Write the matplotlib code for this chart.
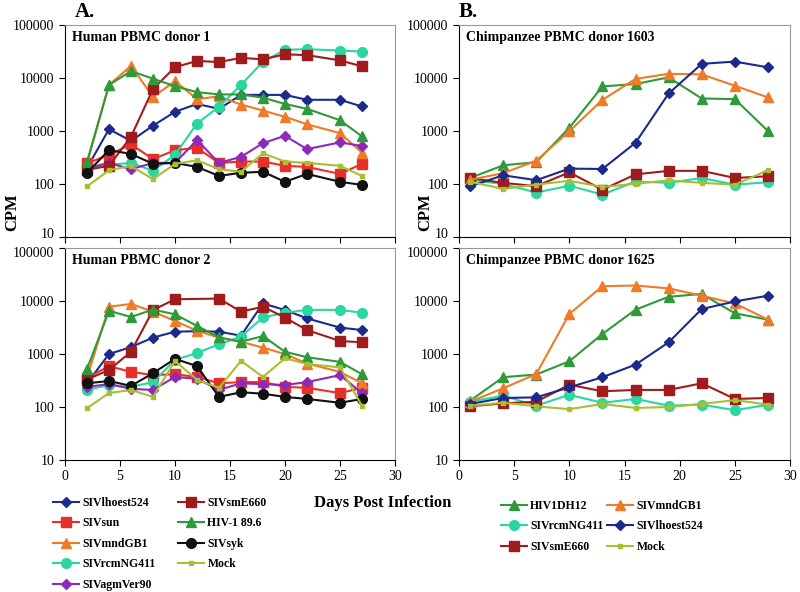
import matplotlib.pyplot as plt
from matplotlib.transforms import ScaledTranslation

plt.rcParams['font.family'] = ['Liberation Serif', 'DejaVu Serif']

# days post infection
days_a = [2, 4, 6, 8, 10, 12, 14, 16, 18, 20, 22, 25, 27]
days_b = [1, 4, 7, 10, 13, 16, 19, 22, 25, 28]

# A. Human PBMC donor 1 (CPM)
lhoest_h1 = [200, 1085, 650, 1260, 2300, 3240, 2620, 4800, 4800, 4800, 3880, 3880, 2900]
sun_h1 = [245, 355, 560, 295, 435, 480, 250, 265, 265, 220, 210, 155, 240]
mnd_h1 = [245, 7400, 17000, 4400, 8700, 4000, 4500, 3150, 2430, 1850, 1340, 910, 390]
rcm_h1 = [200, 230, 250, 178, 355, 1380, 2870, 7400, 20300, 34000, 35000, 33000, 31500]
agm_h1 = [200, 250, 190, 250, 250, 675, 250, 325, 590, 810, 455, 610, 520]
sme_h1 = [185, 220, 780, 6200, 16000, 21000, 20000, 24000, 22500, 28000, 27000, 21500, 16600]
hiv_h1 = [260, 7400, 13500, 9700, 7000, 5400, 4900, 4900, 4250, 3240, 2620, 1600, 790]
syk_h1 = [163, 435, 370, 240, 250, 210, 142, 163, 170, 110, 155, 110, 96]
mock_h1 = [90, 182, 218, 123, 240, 280, 190, 170, 380, 265, 250, 220, 142]

# A. Human PBMC donor 2 (CPM), None = no sample
lhoest_h2 = [280, 1000, 1350, 2040, 2630, 2700, 2630, 2220, 9000, 6760, 4700, 3150, 2830]
sun_h2 = [355, 590, 460, 400, 415, 370, 280, 295, 295, 240, 230, 183, 230]
mnd_h2 = [355, 7800, 8800, 6300, 4200, 2750, 2030, 1700, 1320, 1000, 660, 460, 280]
rcm_h2 = [210, 260, 240, 295, 770, 1050, 1520, 2130, 4900, 6000, 6800, 6800, 6000]
agm_h2 = [240, 270, 220, 210, 370, 340, 210, 280, 270, 260, 295, 400, 183]
sme_h2 = [330, 500, 1100, 6760, 10800, None, 11100, 6300, 7800, 4860, 2830, 1760, 1660]
hiv_h2 = [520, 6500, 5000, 6900, 5600, 3400, 2060, 1700, 2180, 1100, 870, 710, 415]
syk_h2 = [280, 310, 250, 435, 810, 590, 155, 190, 178, 155, 142, 120, 142]
mock_h2 = [95, 183, 210, 155, 740, 325, 230, 740, 370, 830, 650, 560, 105]

# B. Chimpanzee PBMC donor 1603 (CPM)
hiv_c1 = [130, 225, 258, 1150, 6940, 7700, 10300, 4100, 4000, 1000]
mnd_c1 = [120, 160, 275, 990, 3870, 9600, 12000, 11700, 7150, 4300]
lhoest_c1 = [90, 146, 118, 195, 192, 600, 5100, 18500, 20400, 15900]
sme_c1 = [130, 105, 91, 166, 78, 152, 177, 177, 130, 140]
rcm_c1 = [120, 100, 69, 93, 63, 112, 105, 130, 97, 108]
mock_c1 = [110, 81, 97, 115, 88, 101, 117, 105, 97, 182]

# B. Chimpanzee PBMC donor 1625 (CPM)
hiv_c2 = [131, 365, 410, 730, 2390, 6860, 12000, 13600, 5860, 4450]
mnd_c2 = [126, 225, 418, 5700, 19000, 19600, 17300, 12600, 9000, 4450]
lhoest_c2 = [114, 148, 152, 235, 365, 630, 1660, 7060, 9800, 12600]
sme_c2 = [103, 117, 126, 263, 198, 210, 210, 280, 142, 148]
rcm_c2 = [126, 163, 106, 170, 120, 142, 106, 111, 87, 110]
mock_c2 = [106, 120, 103, 91, 114, 96, 100, 114, 135, 111]

# line style per virus: (colour, marker, markersize)
styles = {
    'SIVlhoest524': ('#1c2a8c', 'D', 5),
    'SIVsun': ('#e8302a', 's', 6.5),
    'SIVmndGB1': ('#f07a28', '^', 7),
    'SIVrcmNG411': ('#2bd6a0', 'o', 7),
    'SIVagmVer90': ('#8e2ab8', 'D', 5.5),
    'SIVsmE660': ('#a01c1c', 's', 6.5),
    'HIV-1 89.6': ('#2f9a3a', '^', 7),
    'HIV1DH12': ('#2f9a3a', '^', 7),
    'SIVsyk': ('#111111', 'o', 7),
    'Mock': ('#a8c030', 's', 3.5),
}

W, H = 800, 592


def add_ax(fig, x0, y0, x1, y1):
    # pixel box -> figure fraction
    return fig.add_axes([x0 / W, 1 - y1 / H, (x1 - x0) / W, (y1 - y0) / H])


def draw(ax, days, series, title, top_panel):
    for name, vals in series:
        color, marker, ms = styles[name]
        xs = [d for d, v in zip(days, vals) if v is not None]
        ys = [v for v in vals if v is not None]
        ax.plot(xs, ys, color=color, marker=marker, markersize=ms, lw=1.5,
                label=name)
    ax.set_yscale('log')
    ax.set_ylim(10, 100000)
    ax.set_xlim(0, 30)
    ax.set_xticks(range(0, 31, 5))
    ax.set_yticks([10, 100, 1000, 10000, 100000])
    ax.set_yticklabels(['10', '100', '1000', '10000', '100000'])
    ax.minorticks_off()
    ax.tick_params(direction='out', length=4, labelsize=10)
    labels = ax.get_yticklabels()
    if top_panel:
        ax.tick_params(axis='x', labelbottom=False)
        # nudge the lowest label up so it clears the panel below
        lab, dy = labels[0], 3
    else:
        lab, dy = labels[-1], -3
    lab.set_transform(lab.get_transform()
                      + ScaledTranslation(0, dy / 72, ax.figure.dpi_scale_trans))
    for s in ('top', 'right'):
        ax.spines[s].set_color('#999999')
        ax.spines[s].set_linewidth(0.8)
    ax.text(0.02, 0.94, title, transform=ax.transAxes, fontsize=10,
            fontweight='bold', va='center')


fig = plt.figure(figsize=(8, 5.92), dpi=100)

ax1 = add_ax(fig, 65, 25, 395, 237)
draw(ax1, days_a, [('SIVlhoest524', lhoest_h1), ('SIVsun', sun_h1),
                   ('SIVmndGB1', mnd_h1), ('SIVrcmNG411', rcm_h1),
                   ('SIVagmVer90', agm_h1), ('SIVsmE660', sme_h1),
                   ('HIV-1 89.6', hiv_h1), ('SIVsyk', syk_h1), ('Mock', mock_h1)],
     'Human PBMC donor 1', True)

ax2 = add_ax(fig, 65, 248, 395, 460)
draw(ax2, days_a, [('SIVlhoest524', lhoest_h2), ('SIVsun', sun_h2),
                   ('SIVmndGB1', mnd_h2), ('SIVrcmNG411', rcm_h2),
                   ('SIVagmVer90', agm_h2), ('SIVsmE660', sme_h2),
                   ('HIV-1 89.6', hiv_h2), ('SIVsyk', syk_h2), ('Mock', mock_h2)],
     'Human PBMC donor 2', False)

ax3 = add_ax(fig, 459, 25, 790, 237)
draw(ax3, days_b, [('HIV1DH12', hiv_c1), ('SIVrcmNG411', rcm_c1),
                   ('SIVsmE660', sme_c1), ('SIVmndGB1', mnd_c1),
                   ('SIVlhoest524', lhoest_c1), ('Mock', mock_c1)],
     'Chimpanzee PBMC donor 1603', True)

ax4 = add_ax(fig, 459, 248, 790, 460)
draw(ax4, days_b, [('HIV1DH12', hiv_c2), ('SIVrcmNG411', rcm_c2),
                   ('SIVsmE660', sme_c2), ('SIVmndGB1', mnd_c2),
                   ('SIVlhoest524', lhoest_c2), ('Mock', mock_c2)],
     'Chimpanzee PBMC donor 1625', False)

# panel letters and shared labels
fig.text(75 / W, 1 - 12 / H, 'A.', fontsize=15, fontweight='bold', va='center')
fig.text(459 / W, 1 - 12 / H, 'B.', fontsize=15, fontweight='bold', va='center')
fig.text(12 / W, 1 - 212 / H, 'CPM', fontsize=12, fontweight='bold',
         rotation=90, ha='center', va='center')
fig.text(425 / W, 1 - 212 / H, 'CPM', fontsize=12, fontweight='bold',
         rotation=90, ha='center', va='center')
fig.text(383 / W, 1 - 503 / H, 'Days Post Infection', fontsize=12,
         fontweight='bold', ha='center', va='center')

leg_kw = dict(ncol=2, frameon=False, prop={'weight': 'bold', 'size': 8.5},
              handlelength=2.2, handletextpad=0.3, labelspacing=0.72,
              borderaxespad=0)
fig.legend(*ax2.get_legend_handles_labels(), loc='upper left',
           bbox_to_anchor=(48 / W, 1 - 492 / H), columnspacing=1.9, **leg_kw)
fig.legend(*ax4.get_legend_handles_labels(), loc='upper left',
           bbox_to_anchor=(496 / W, 1 - 495 / H), columnspacing=0.3, **leg_kw)

fig.savefig('out.png', dpi=100)
